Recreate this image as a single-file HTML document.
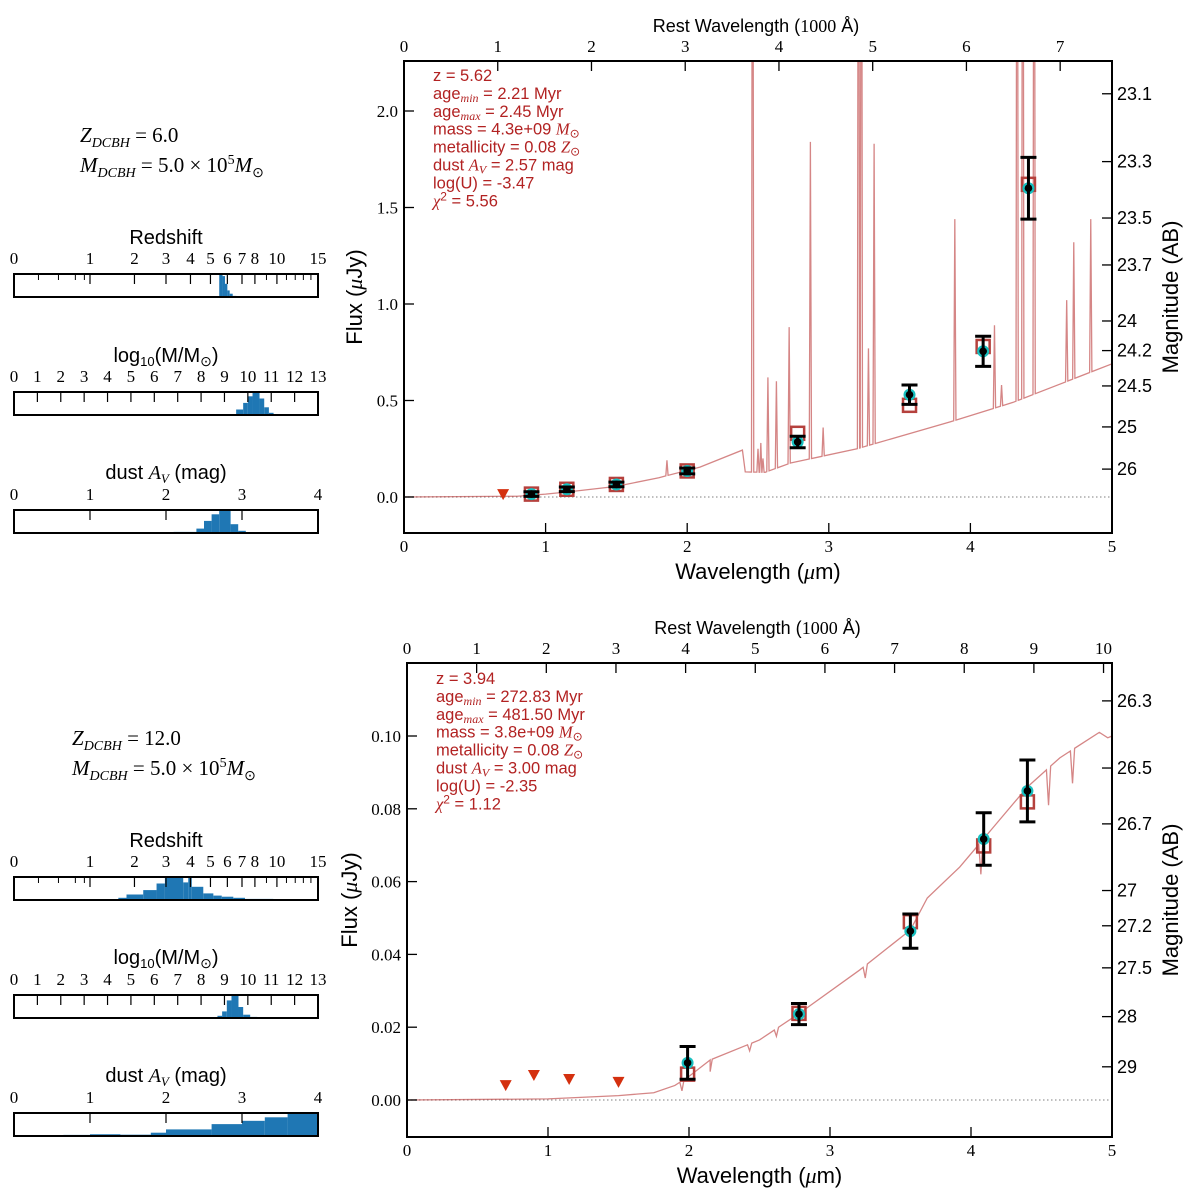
<!DOCTYPE html>
<html><head><meta charset="utf-8"><style>
body{margin:0;background:#fff;}
svg{display:block;}
text{font-family:"Liberation Sans",sans-serif;}
.serif{font-family:"Liberation Serif",serif;}
.leg{fill:#b22222;font-size:16.5px;}
</style></head><body>
<svg id="root" width="1200" height="1203" viewBox="0 0 1200 1203" xmlns="http://www.w3.org/2000/svg">
<defs>
<clipPath id="clipTop"><rect x="404" y="61" width="708" height="472"/></clipPath>
<clipPath id="clipBot"><rect x="407" y="663" width="705" height="474"/></clipPath>
</defs>
<g id="leftTop">
<text class="serif" x="80" y="142" font-size="21" font-style="italic">Z<tspan font-size="14" baseline-shift="-5">DCBH</tspan><tspan font-style="normal"> = 6.0</tspan></text>
<text class="serif" x="80" y="172" font-size="21" font-style="italic">M<tspan font-size="14" baseline-shift="-5">DCBH</tspan><tspan font-style="normal"> = 5.0 × 10</tspan><tspan baseline-shift="8" font-size="14" font-style="normal">5</tspan><tspan>M</tspan><tspan font-size="14" baseline-shift="-5" font-style="normal">⊙</tspan></text>
</g>
<g>
<text class="serif" x="72" y="745" font-size="21" font-style="italic">Z<tspan font-size="14" baseline-shift="-5">DCBH</tspan><tspan font-style="normal"> = 12.0</tspan></text>
<text class="serif" x="72" y="775" font-size="21" font-style="italic">M<tspan font-size="14" baseline-shift="-5">DCBH</tspan><tspan font-style="normal"> = 5.0 × 10</tspan><tspan baseline-shift="8" font-size="14" font-style="normal">5</tspan><tspan>M</tspan><tspan font-size="14" baseline-shift="-5" font-style="normal">⊙</tspan></text>
</g>
<g id="hists"></g>
<g id="chartTop"></g>
<g id="chartBot"></g>
</svg>
<script>
// ---------- histogram data ----------
const zTicks = [0,1,2,3,4,5,6,7,8,10,15];
const zMinor = [0.25,0.5,0.75,0.9,9,11,12,13,14];
const mTicks = [0,1,2,3,4,5,6,7,8,9,10,11,12,13];
const aTicks = [0,1,2,3,4];
const topZEdges = [5.5,5.7,5.85,6.0,6.15,6.35,6.6];
const topZHeights = [1.0,0.95,0.6,0.3,0.15,0.05];
const topMEdges = [9.5,9.8,10.0,10.2,10.5,10.7,10.9,11.1];
const topMHeights = [0.25,0.55,0.85,1.0,0.75,0.35,0.1];
const topAEdges = [2.1,2.4,2.5,2.6,2.7,2.85,2.95,3.05];
const topAHeights = [0.05,0.2,0.55,0.85,1.0,0.4,0.1];
const botZEdges = [1.59,1.79,2.25,2.67,2.96,3.68,3.90,4.06,4.62,5.16,5.65,6.39,7.22,8.14,9.64];
const botZHeights = [0.1,0.25,0.45,0.75,1.0,0.8,1.0,0.6,0.3,0.2,0.15,0.1,0.05,0.05];
const botMEdges = [8.7,8.9,9.1,9.3,9.6,9.8,10.1,10.4];
const botMHeights = [0.1,0.3,0.8,1.0,0.5,0.15,0.05];
const botAEdges = [0.65,1.0,1.4,1.8,2.0,2.6,3.0,3.3,3.6,4.0];
const botAHeights = [0.05,0.08,0.06,0.15,0.3,0.54,0.69,0.85,1.0];

// ---------- top chart data ----------
const topContLam = [0,0.8,1.0,1.2,1.5,1.8,2.09,2.39,2.41,2.55,2.73,3.2,3.86,4.3,5.0];
const topContFlux = [0,0.004,0.015,0.03,0.055,0.1,0.155,0.243,0.13,0.128,0.176,0.25,0.39,0.49,0.69];
const topLineLam = [1.857,2.462,2.50,2.52,2.535,2.57,2.63,2.72,2.87,2.96,3.21,3.23,3.28,3.32,3.89,4.17,4.22,4.33,4.37,4.45,4.68,4.73,4.85];
const topLinePeak = [0.19,5,0.25,0.28,0.2,0.62,0.60,0.88,1.84,0.36,5,5,0.77,1.83,1.44,0.89,0.58,5,5,5,1.02,1.32,1.44];
const topObsLam = [0.9,1.15,1.5,2.0,2.78,3.57,4.09,4.41];
const topObsFlux = [0.015,0.04,0.065,0.135,0.285,0.53,0.755,1.60];
const topObsErr = [0.012,0.012,0.012,0.015,0.03,0.05,0.078,0.16];
const topModelFlux = [0.015,0.04,0.065,0.135,0.33,0.475,0.78,1.62];
const topLimLam = [0.7];
const topLimFlux = [0.01];
const topYTicks = [0.0,0.5,1.0,1.5,2.0];
const topYLabels = ["0.0","0.5","1.0","1.5","2.0"];
const topMagTicks = [23.1,23.3,23.5,23.7,24,24.2,24.5,25,26];
const topRestTicks = [0,1,2,3,4,5,6,7];
const topLegend = ["z = 5.62","age|min| = 2.21 Myr","age|max| = 2.45 Myr","mass = 4.3e+09 ~M~","metallicity = 0.08 ~Z~","dust ~A~ = 2.57 mag","log(U) = -3.47","~X~ = 5.56"];

// ---------- bottom chart data ----------
const botContLam = [0,1.0,1.5,1.75,1.9,2.0,2.15,2.5,2.79,3.21,3.57,3.69,3.92,4.16,4.40,4.63,4.91,4.97,5.0];
const botContFlux = [0,0.0003,0.0012,0.002,0.004,0.0065,0.011,0.0165,0.024,0.0357,0.0467,0.0555,0.064,0.075,0.086,0.094,0.101,0.0995,0.1];
const botLineLam = [1.95,2.15,2.43,2.62,3.25,4.07,4.55,4.72];
const botLinePeak = [0.0025,0.0078,0.0135,0.0175,0.0335,0.062,0.081,0.087];
const botObsLam = [1.99,2.78,3.57,4.09,4.40];
const botObsFlux = [0.0102,0.0236,0.0464,0.0717,0.0849];
const botObsErr = [0.0045,0.0029,0.0047,0.0072,0.0085];
const botModelFlux = [0.0071,0.0238,0.049,0.0698,0.0819];
const botLimLam = [0.7,0.9,1.15,1.5];
const botLimFlux = [0.0038,0.0066,0.0055,0.0047];
const botYTicks = [0,0.02,0.04,0.06,0.08,0.10];
const botYLabels = ["0.00","0.02","0.04","0.06","0.08","0.10"];
const botMagTicks = [26.3,26.5,26.7,27,27.2,27.5,28,29];
const botRestTicks = [0,1,2,3,4,5,6,7,8,9,10];
const botLegend = ["z = 3.94","age|min| = 272.83 Myr","age|max| = 481.50 Myr","mass = 3.8e+09 ~M~","metallicity = 0.08 ~Z~","dust ~A~ = 3.00 mag","log(U) = -2.35","~X~ = 1.12"];

const NS="http://www.w3.org/2000/svg";
function mk(parent,tag,attrs,text){const e=document.createElementNS(NS,tag);for(const k in attrs)e.setAttribute(k,attrs[k]);if(text!==undefined)e.textContent=text;parent.appendChild(e);return e;}

// ---------- histograms ----------
const H=document.getElementById('hists');
function hist(name,title,titleY,box,scale,ticks,minor,edges,heights){
  const g=mk(H,'g',{});
  
  
  const t=mk(g,'text',{x:166,y:titleY,'text-anchor':'middle','font-size':20},'');
  
  
  if(title==='mass'){t.innerHTML='log<tspan font-size="13" baseline-shift="-4">10</tspan><tspan>(M/M</tspan><tspan font-size="14" baseline-shift="-4">⊙</tspan><tspan>)</tspan>';}
  else if(title==='dust'){t.innerHTML='dust <tspan font-family="Liberation Serif" font-style="italic">A</tspan><tspan font-family="Liberation Serif" font-style="italic" font-size="13" baseline-shift="-4">V</tspan><tspan> (mag)</tspan>';}
  else t.textContent=title;
  for(let i=0;i<heights.length;i++){
    const x1=scale(edges[i]),x2=scale(edges[i+1]);
    const hh=heights[i]*(box.h-1);
    const r=mk(g,'rect',{x:x1,y:box.y+box.h-hh,width:Math.max(0,x2-x1),height:hh,fill:'#1f77b4'});
    
    
  }
  ticks.forEach(v=>{
    const x=scale(v);
    if(v>ticks[0]&&v<ticks[ticks.length-1]) mk(g,'line',{x1:x,x2:x,y1:box.y,y2:box.y+10,stroke:'#000','stroke-width':1.2});
    const l=mk(g,'text',{x:x,y:box.y-10,'text-anchor':'middle','font-size':17,class:'serif'},String(v));
    
    
  });
  (minor||[]).forEach(v=>{const x=scale(v);mk(g,'line',{x1:x,x2:x,y1:box.y,y2:box.y+6,stroke:'#000','stroke-width':1});});
  const b=mk(g,'rect',{x:box.x,y:box.y,width:box.w,height:box.h,fill:'none',stroke:'#000','stroke-width':2});
  
  
}
const X0=14,W=304;
const zs=z=>X0+W*Math.log(1+z)/Math.log(16);
const ms=m=>X0+W*m/13;
const as=a=>X0+W*a/4;
hist('redshift-hist-top','Redshift',244,{x:X0,y:274,w:W,h:23},zs,zTicks,zMinor,topZEdges,topZHeights);
hist('mass-hist-top','mass',362,{x:X0,y:392,w:W,h:23},ms,mTicks,null,topMEdges,topMHeights);
hist('dust-hist-top','dust',479,{x:X0,y:510,w:W,h:23},as,aTicks,null,topAEdges,topAHeights);
hist('redshift-hist-bottom','Redshift',847,{x:X0,y:877,w:W,h:23},zs,zTicks,zMinor,botZEdges,botZHeights);
hist('mass-hist-bottom','mass',964,{x:X0,y:995,w:W,h:23},ms,mTicks,null,botMEdges,botMHeights);
hist('dust-hist-bottom','dust',1082,{x:X0,y:1113,w:W,h:23},as,aTicks,null,botAEdges,botAHeights);

// ---------- SED charts ----------
function interp(xs,ys,x){if(x<=xs[0])return ys[0];for(let i=1;i<xs.length;i++){if(x<=xs[i]){const t=(x-xs[i-1])/(xs[i]-xs[i-1]);return ys[i-1]+t*(ys[i]-ys[i-1]);}}return ys[ys.length-1];}
const SER='font-family="Liberation Serif" font-style="italic"';
function sed(c){
  const G=document.getElementById(c.gid);
  const X=l=>c.bx+c.bw*l/5;
  const Y=f=>c.y0-f*c.ppu;
  const by=c.by,bh=c.bh,bx=c.bx,bw=c.bw;
  const zl=mk(G,'line',{x1:bx,x2:bx+bw,y1:Y(0),y2:Y(0),stroke:'#999','stroke-width':1.2,'stroke-dasharray':'1.5,2.5'});
  
  
  let pts=c.cl.map((l,i)=>[l,c.cf[i]]);
  c.ll.forEach((l,i)=>{pts.push([l-c.w,interp(c.cl,c.cf,l-c.w)]);pts.push([l,c.lp[i]]);pts.push([l+c.w,interp(c.cl,c.cf,l+c.w)]);});
  pts.sort((a,b)=>a[0]-b[0]);
  const gc=mk(G,'g',{'clip-path':c.clip});
  const sp=mk(gc,'path',{d:'M'+pts.map(p=>X(p[0]).toFixed(2)+','+Y(p[1]).toFixed(2)).join('L'),fill:'none',stroke:'rgba(178,34,34,0.55)','stroke-width':1.3});
  
  
  c.limL.forEach((l,i)=>{const x=X(l),y=Y(c.limF[i]);
    const tr=mk(G,'path',{d:`M${x-6},${y-6}L${x+6},${y-6}L${x},${y+5}Z`,fill:'#d4300f'});
    
    });
  c.oL.forEach((l,i)=>{const x=X(l),y=Y(c.mF[i]);
    const s=mk(G,'rect',{x:x-6.5,y:y-6.5,width:13,height:13,fill:'none',stroke:'#b5413d','stroke-width':2.5});
    
    });
  c.oL.forEach((l,i)=>{const x=X(l),y=Y(c.oF[i]),e=c.oE[i]*c.ppu;
    const g=mk(G,'g',{});
    
    
    mk(g,'circle',{cx:x,cy:y,r:6,fill:'#17bfbf'});
    mk(g,'line',{x1:x,x2:x,y1:y-e,y2:y+e,stroke:'#000','stroke-width':3});
    mk(g,'line',{x1:x-8,x2:x+8,y1:y-e,y2:y-e,stroke:'#000','stroke-width':3});
    mk(g,'line',{x1:x-8,x2:x+8,y1:y+e,y2:y+e,stroke:'#000','stroke-width':3});
    mk(g,'circle',{cx:x,cy:y,r:3.8,fill:'#000'});});
  const fr=mk(G,'rect',{x:bx,y:by,width:bw,height:bh,fill:'none',stroke:'#000','stroke-width':2});
  
  
  for(let k=0;k<=5;k++){const x=X(k);
    if(k>0&&k<5) mk(G,'line',{x1:x,x2:x,y1:by+bh,y2:by+bh-10,stroke:'#000','stroke-width':1.3});
    const t=mk(G,'text',{x:x,y:by+bh+19,'text-anchor':'middle','font-size':17,class:'serif'},String(k));
    
    }
  c.rest.forEach(k=>{const x=X(k*0.1*(1+c.z));
    if(k>0) mk(G,'line',{x1:x,x2:x,y1:by,y2:by+10,stroke:'#000','stroke-width':1.3});
    const t=mk(G,'text',{x:x,y:by-9,'text-anchor':'middle','font-size':17,class:'serif'},String(k));
    
    });
  c.yt.forEach((v,i)=>{const y=Y(v);
    mk(G,'line',{x1:bx,x2:bx+10,y1:y,y2:y,stroke:'#000','stroke-width':1.3});
    const t=mk(G,'text',{x:bx-6,y:y+6,'text-anchor':'end','font-size':17,class:'serif'},c.yl[i]);
    
    });
  c.mag.forEach(m=>{const y=Y(Math.pow(10,(23.9-m)/2.5));
    mk(G,'line',{x1:bx+bw,x2:bx+bw-10,y1:y,y2:y,stroke:'#000','stroke-width':1.3});
    const t=mk(G,'text',{x:bx+bw+5,y:y+6,'font-size':18},String(m));
    
    });
  const t1=mk(G,'text',{x:bx+bw/2,y:by+bh+46,'text-anchor':'middle','font-size':22},'');
  t1.innerHTML='Wavelength (<tspan '+SER+'>μ</tspan>m)';
  
  
  const t2=mk(G,'text',{x:bx+bw/2-2,y:by-29,'text-anchor':'middle','font-size':18},'');
  t2.innerHTML='Rest Wavelength (<tspan font-family="Liberation Serif">1000</tspan> Å)';
  
  
  const cy=by+bh/2;
  const t3=mk(G,'text',{x:0,y:0,'text-anchor':'middle','font-size':22,transform:`translate(${c.fluxX},${cy}) rotate(-90)`},'');
  t3.innerHTML='Flux (<tspan '+SER+'>μ</tspan>Jy)';
  
  
  const t4=mk(G,'text',{x:0,y:0,'text-anchor':'middle','font-size':22,transform:`translate(${1178},${cy}) rotate(-90)`},'Magnitude (AB)');
  
  
  c.leg.forEach((s,i)=>{
    const t=mk(G,'text',{x:c.legX,y:c.legY+i*17.9,class:'leg'},'');
    
    
    let h=s.replace(/\|(\w+)\|/g,'<tspan '+SER+' font-size="12" baseline-shift="-3">$1</tspan><tspan> </tspan>');
    h=h.replace('~M~','<tspan '+SER+'>M</tspan><tspan font-size="12" baseline-shift="-3">⊙</tspan>');
    h=h.replace('~Z~','<tspan '+SER+'>Z</tspan><tspan font-size="12" baseline-shift="-3">⊙</tspan>');
    h=h.replace('~A~','<tspan '+SER+'>A</tspan><tspan '+SER+' font-size="12" baseline-shift="-3">V</tspan><tspan> </tspan>');
    h=h.replace('~X~','<tspan '+SER+'>χ</tspan><tspan font-size="12" baseline-shift="6">2</tspan><tspan> </tspan>');
    t.innerHTML=h;
  });
}
sed({gid:'chartTop',bx:404,by:61,bw:708,bh:472,y0:497,ppu:193,clip:'url(#clipTop)',z:5.62,w:0.008,
  cl:topContLam,cf:topContFlux,ll:topLineLam,lp:topLinePeak,oL:topObsLam,oF:topObsFlux,oE:topObsErr,mF:topModelFlux,
  limL:topLimLam,limF:topLimFlux,yt:topYTicks,yl:topYLabels,mag:topMagTicks,rest:topRestTicks,fluxX:362,leg:topLegend,legX:433,legY:81});
sed({gid:'chartBot',bx:407,by:663,bw:705,bh:474,y0:1100,ppu:3640,clip:'url(#clipBot)',z:3.94,w:0.015,
  cl:botContLam,cf:botContFlux,ll:botLineLam,lp:botLinePeak,oL:botObsLam,oF:botObsFlux,oE:botObsErr,mF:botModelFlux,
  limL:botLimLam,limF:botLimFlux,yt:botYTicks,yl:botYLabels,mag:botMagTicks,rest:botRestTicks,fluxX:357,leg:botLegend,legX:436,legY:684});
</script>
</body></html>
